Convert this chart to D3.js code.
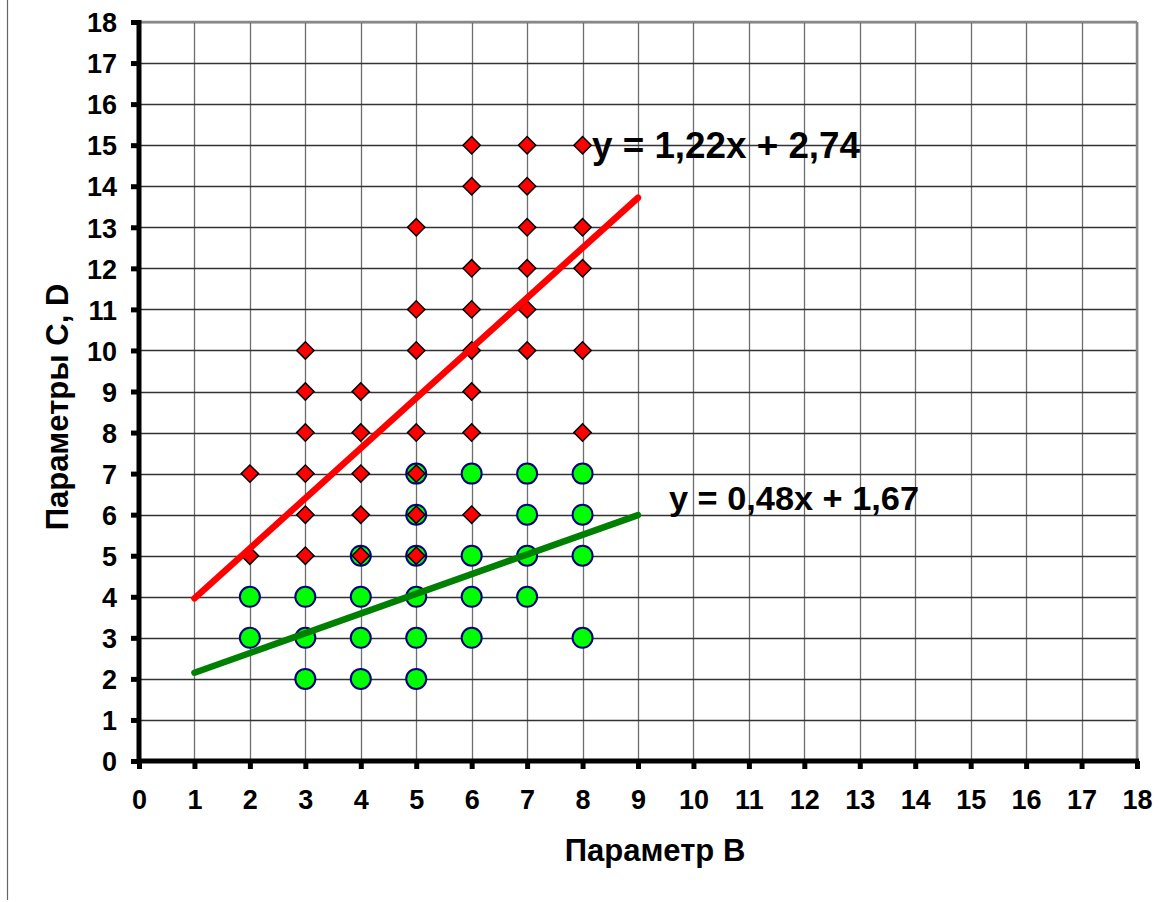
<!DOCTYPE html>
<html>
<head>
<meta charset="utf-8">
<script src="https://cdn.jsdelivr.net/npm/d3@7"></script>
<style>
  html, body { margin: 0; padding: 0; background: #fff; }
  svg text { font-family: Arial, 'Liberation Sans', sans-serif; font-weight: bold; }
</style>
</head>
<body>
<div id="chart-container"></div>
<script>
// Параметр B values (x) and matching C / D values
const cX = [2, 2, 3, 3, 3, 3, 3, 3, 4, 4, 4, 4, 4, 5, 5, 5, 5, 5, 5, 5, 6, 6, 6, 6, 6, 6, 6, 6, 7, 7, 7, 7, 7, 7, 8, 8, 8, 8, 8];
const cY = [7, 5, 10, 9, 8, 7, 6, 5, 9, 8, 7, 6, 5, 13, 11, 10, 8, 7, 6, 5, 15, 14, 12, 11, 10, 9, 8, 6, 15, 14, 13, 12, 11, 10, 15, 13, 12, 10, 8];
const dX = [2, 2, 3, 3, 3, 4, 4, 4, 4, 5, 5, 5, 5, 5, 5, 6, 6, 6, 6, 7, 7, 7, 7, 8, 8, 8, 8];
const dY = [4, 3, 4, 3, 2, 5, 4, 3, 2, 7, 6, 5, 4, 3, 2, 7, 5, 4, 3, 7, 6, 5, 4, 7, 6, 5, 3];

// trend lines (slope, intercept) over x range
const trendC = { slope: 1.22, intercept: 2.74, label: 'y = 1,22x + 2,74' };
const trendD = { slope: 0.48, intercept: 1.67, label: 'y = 0,48x + 1,67' };
const trendRange = [1, 9];

const xTicks = d3.range(0, 19);
const yTicks = d3.range(0, 19);
const xTitle = 'Параметр B';
const yTitle = 'Параметры C, D';

const width = 1165, height = 902;
const svg = d3.select('#chart-container')
  .append('svg')
  .attr('width', width)
  .attr('height', height);

const x = d3.scaleLinear().domain([0, 18]).range([139, 1137]);
const y = d3.scaleLinear().domain([0, 18]).range([761, 22]);

// left frame line
svg.append('line')
  .attr('x1', 7.5).attr('x2', 7.5).attr('y1', 0).attr('y2', 900)
  .attr('stroke', '#666').attr('stroke-width', 1.2);

// grid
const grid = svg.append('g');
grid.selectAll('.vgrid')
  .data(xTicks.slice(1))
  .enter().append('line')
  .attr('x1', d => Math.round(x(d)) + 0.5).attr('x2', d => Math.round(x(d)) + 0.5)
  .attr('y1', y(18)).attr('y2', y(0))
  .attr('stroke', '#6e6e6e').attr('stroke-width', 1.3);
grid.selectAll('.hgrid')
  .data(yTicks.slice(1))
  .enter().append('line')
  .attr('x1', x(0)).attr('x2', x(18))
  .attr('y1', d => Math.round(y(d)) + 0.5).attr('y2', d => Math.round(y(d)) + 0.5)
  .attr('stroke', '#333').attr('stroke-width', 1.3);
// plot border top / right
grid.append('line')
  .attr('x1', x(0)).attr('x2', x(18)).attr('y1', y(18)).attr('y2', y(18))
  .attr('stroke', '#888').attr('stroke-width', 2.5);
grid.append('line')
  .attr('x1', x(18)).attr('x2', x(18)).attr('y1', y(18)).attr('y2', y(0))
  .attr('stroke', '#888').attr('stroke-width', 2.5);

// axes
const xAxis = svg.append('g')
  .attr('transform', 'translate(0,' + y(0) + ')')
  .call(d3.axisBottom(x).tickValues(xTicks).tickSize(8).tickPadding(14).tickFormat(d3.format('d')));
const yAxis = svg.append('g')
  .attr('transform', 'translate(' + x(0) + ',0)')
  .call(d3.axisLeft(y).tickValues(yTicks).tickSize(8).tickPadding(14).tickFormat(d3.format('d')));

[xAxis, yAxis].forEach(ax => {
  ax.select('.domain').remove();
  ax.selectAll('.tick line').attr('stroke', '#000').attr('stroke-width', 5);
  ax.selectAll('.tick text').attr('fill', '#000').style('font-size', '27px')
    .style('font-family', "Arial, 'Liberation Sans', sans-serif").style('font-weight', 'bold');
});
xAxis.selectAll('.tick text').attr('dy', '0.95em');
yAxis.selectAll('.tick text').attr('dy', '0.36em');

svg.append('line')
  .attr('x1', x(0)).attr('x2', x(18) + 2).attr('y1', y(0)).attr('y2', y(0))
  .attr('stroke', '#000').attr('stroke-width', 5);
svg.append('line')
  .attr('x1', x(0)).attr('x2', x(0)).attr('y1', y(18) - 2).attr('y2', y(0) + 2)
  .attr('stroke', '#000').attr('stroke-width', 5);

// series D: green circles
svg.selectAll('.ptD')
  .data(dX.map((v, i) => [v, dY[i]]))
  .enter().append('circle')
  .attr('cx', d => x(d[0]))
  .attr('cy', d => y(d[1]))
  .attr('r', 10)
  .attr('fill', '#00ff00')
  .attr('stroke', '#000080')
  .attr('stroke-width', 2);

// series C: red diamonds
const diamond = d3.symbol().type(d3.symbolSquare).size(150);
svg.selectAll('.ptC')
  .data(cX.map((v, i) => [v, cY[i]]))
  .enter().append('path')
  .attr('d', diamond)
  .attr('transform', d => 'translate(' + x(d[0]) + ',' + y(d[1]) + ') rotate(45)')
  .attr('fill', '#ff0000')
  .attr('stroke', '#000')
  .attr('stroke-width', 1.5);

// trend lines
function drawTrend(t, color) {
  const pts = trendRange.map(v => [v, t.slope * v + t.intercept]);
  svg.append('path')
    .datum(pts)
    .attr('d', d3.line().x(d => x(d[0])).y(d => y(d[1])))
    .attr('stroke', color)
    .attr('stroke-width', 6.5)
    .attr('stroke-linecap', 'round')
    .attr('fill', 'none');
}
drawTrend(trendC, '#ff0000');
drawTrend(trendD, '#008000');

// equation labels
svg.append('text')
  .attr('x', 592).attr('y', 158)
  .attr('textLength', 268).attr('lengthAdjust', 'spacingAndGlyphs')
  .style('font-size', '36px')
  .text(trendC.label);
svg.append('text')
  .attr('x', 669).attr('y', 510)
  .attr('textLength', 250).attr('lengthAdjust', 'spacingAndGlyphs')
  .style('font-size', '34px')
  .text(trendD.label);

// axis titles
svg.append('text')
  .attr('x', 655).attr('y', 861)
  .attr('text-anchor', 'middle')
  .style('font-size', '31px')
  .text(xTitle);
svg.append('text')
  .attr('transform', 'translate(68,' + 407 + ') rotate(-90)')
  .attr('text-anchor', 'middle')
  .style('font-size', '31px')
  .text(yTitle);
</script>
</body>
</html>
